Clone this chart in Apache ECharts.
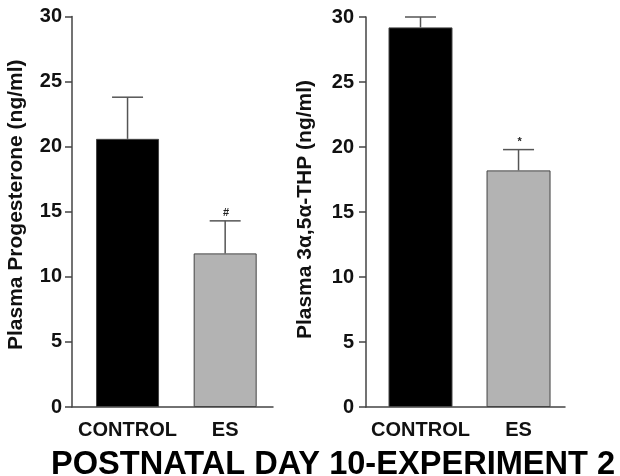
<!DOCTYPE html>
<html>
<head>
<meta charset="utf-8">
<script src="https://cdn.jsdelivr.net/npm/echarts@6/dist/echarts.min.js"></script>
<style>
  html, body { margin: 0; padding: 0; background: #fff; }
  #chart { width: 620px; height: 476px; }
</style>
</head>
<body>
<div id="chart"></div>
<script>
// groups on the x axis
var categories = ['CONTROL', 'ES'];
// left panel: plasma progesterone, mean and SEM
var progMean = [20.6, 11.8];
var progSem = [3.2, 2.5];
var progMark = ['', '#'];
// right panel: plasma 3a,5a-THP, mean and SEM
var thpMean = [29.2, 18.2];
var thpSem = [0.8, 1.6];
var thpMark = ['', '*'];
// y ticks 0..30 step 5
var yMin = 0, yMax = 30, yStep = 5;

var barColors = ['#000000', '#b3b3b3'];
var font = 'Liberation Sans, Arial, Helvetica, sans-serif';
var axisColor = '#444';

var chart = echarts.init(document.getElementById('chart'));

function barData(vals) {
  return vals.map(function (v, i) {
    return { value: [i, v], itemStyle: { color: barColors[i] } };
  });
}
function errData(mean, sem) {
  return mean.map(function (m, i) { return [i, m, m + sem[i]]; });
}
function errRender(marks) {
  return function (params, api) {
    var x = api.value(0);
    var p0 = api.coord([x, api.value(1)]);
    var p1 = api.coord([x, api.value(2)]);
    var hw = 15.5;
    var st = { stroke: '#555', lineWidth: 1.5 };
    return {
      type: 'group',
      children: [
        { type: 'line', shape: { x1: p0[0], y1: p0[1], x2: p1[0], y2: p1[1] }, style: st },
        { type: 'line', shape: { x1: p1[0] - hw, y1: p1[1], x2: p1[0] + hw, y2: p1[1] }, style: st },
        { type: 'text', style: { text: marks[params.dataIndex], x: p1[0] + 1, y: p1[1] - 2,
            textAlign: 'center', textVerticalAlign: 'bottom', font: 'bold 11px ' + font, fill: '#222' } }
      ]
    };
  };
}

function xAxisOpt(idx, min, max) {
  return {
    type: 'value', gridIndex: idx, min: min, max: max,
    splitLine: { show: false },
    axisTick: { show: false },
    axisLine: { onZero: false, lineStyle: { color: axisColor, width: 1.5 } },
    axisLabel: {
      customValues: [0, 1],
      formatter: function (v) { return categories[Math.round(v)] || ''; },
      fontFamily: font, fontWeight: 'bold', fontSize: 20, color: '#111', margin: 13
    }
  };
}
function yAxisOpt(idx, name, gap, labelMargin, namePad) {
  return {
    type: 'value', gridIndex: idx, min: yMin, max: yMax, interval: yStep,
    name: name, nameLocation: 'middle', nameGap: gap,
    nameTextStyle: { fontFamily: font, fontWeight: 'bold', fontSize: 21, color: '#111',
      padding: [0, 0, 0, namePad] },
    splitLine: { show: false },
    axisLine: { show: true, onZero: false, lineStyle: { color: axisColor, width: 1.5 } },
    axisTick: { show: true, length: 7, lineStyle: { color: axisColor, width: 1.5 } },
    axisLabel: { fontFamily: font, fontWeight: 'bold', fontSize: 20, color: '#111', margin: labelMargin }
  };
}

var option = {
  backgroundColor: '#fff',
  animation: false,
  title: {
    text: 'POSTNATAL DAY 10-EXPERIMENT 2',
    left: 51, top: 449, padding: 0,
    textStyle: { fontFamily: font, fontWeight: 'bold', fontSize: 32.6, color: '#000' }
  },
  grid: [
    { left: 72, top: 16.5, width: 201, height: 390.5 },
    { left: 366, top: 17, width: 199, height: 390 }
  ],
  xAxis: [
    xAxisOpt(0, -0.569, 1.49),
    xAxisOpt(1, -0.556, 1.474)
  ],
  yAxis: [
    yAxisOpt(0, 'Plasma Progesterone (ng/ml)', 45, 10, 14),
    yAxisOpt(1, 'Plasma 3\u03B1,5\u03B1-THP (ng/ml)', 50, 12, 5)
  ],
  series: [
    { type: 'bar', xAxisIndex: 0, yAxisIndex: 0, barWidth: 63, data: barData(progMean),
      itemStyle: { borderColor: '#444', borderWidth: 1 } },
    { type: 'custom', xAxisIndex: 0, yAxisIndex: 0, data: errData(progMean, progSem),
      renderItem: errRender(progMark), z: 3 },
    { type: 'bar', xAxisIndex: 1, yAxisIndex: 1, barWidth: 64, data: barData(thpMean),
      itemStyle: { borderColor: '#444', borderWidth: 1 } },
    { type: 'custom', xAxisIndex: 1, yAxisIndex: 1, data: errData(thpMean, thpSem),
      renderItem: errRender(thpMark), z: 3 }
  ]
};
chart.setOption(option);
</script>
</body>
</html>
